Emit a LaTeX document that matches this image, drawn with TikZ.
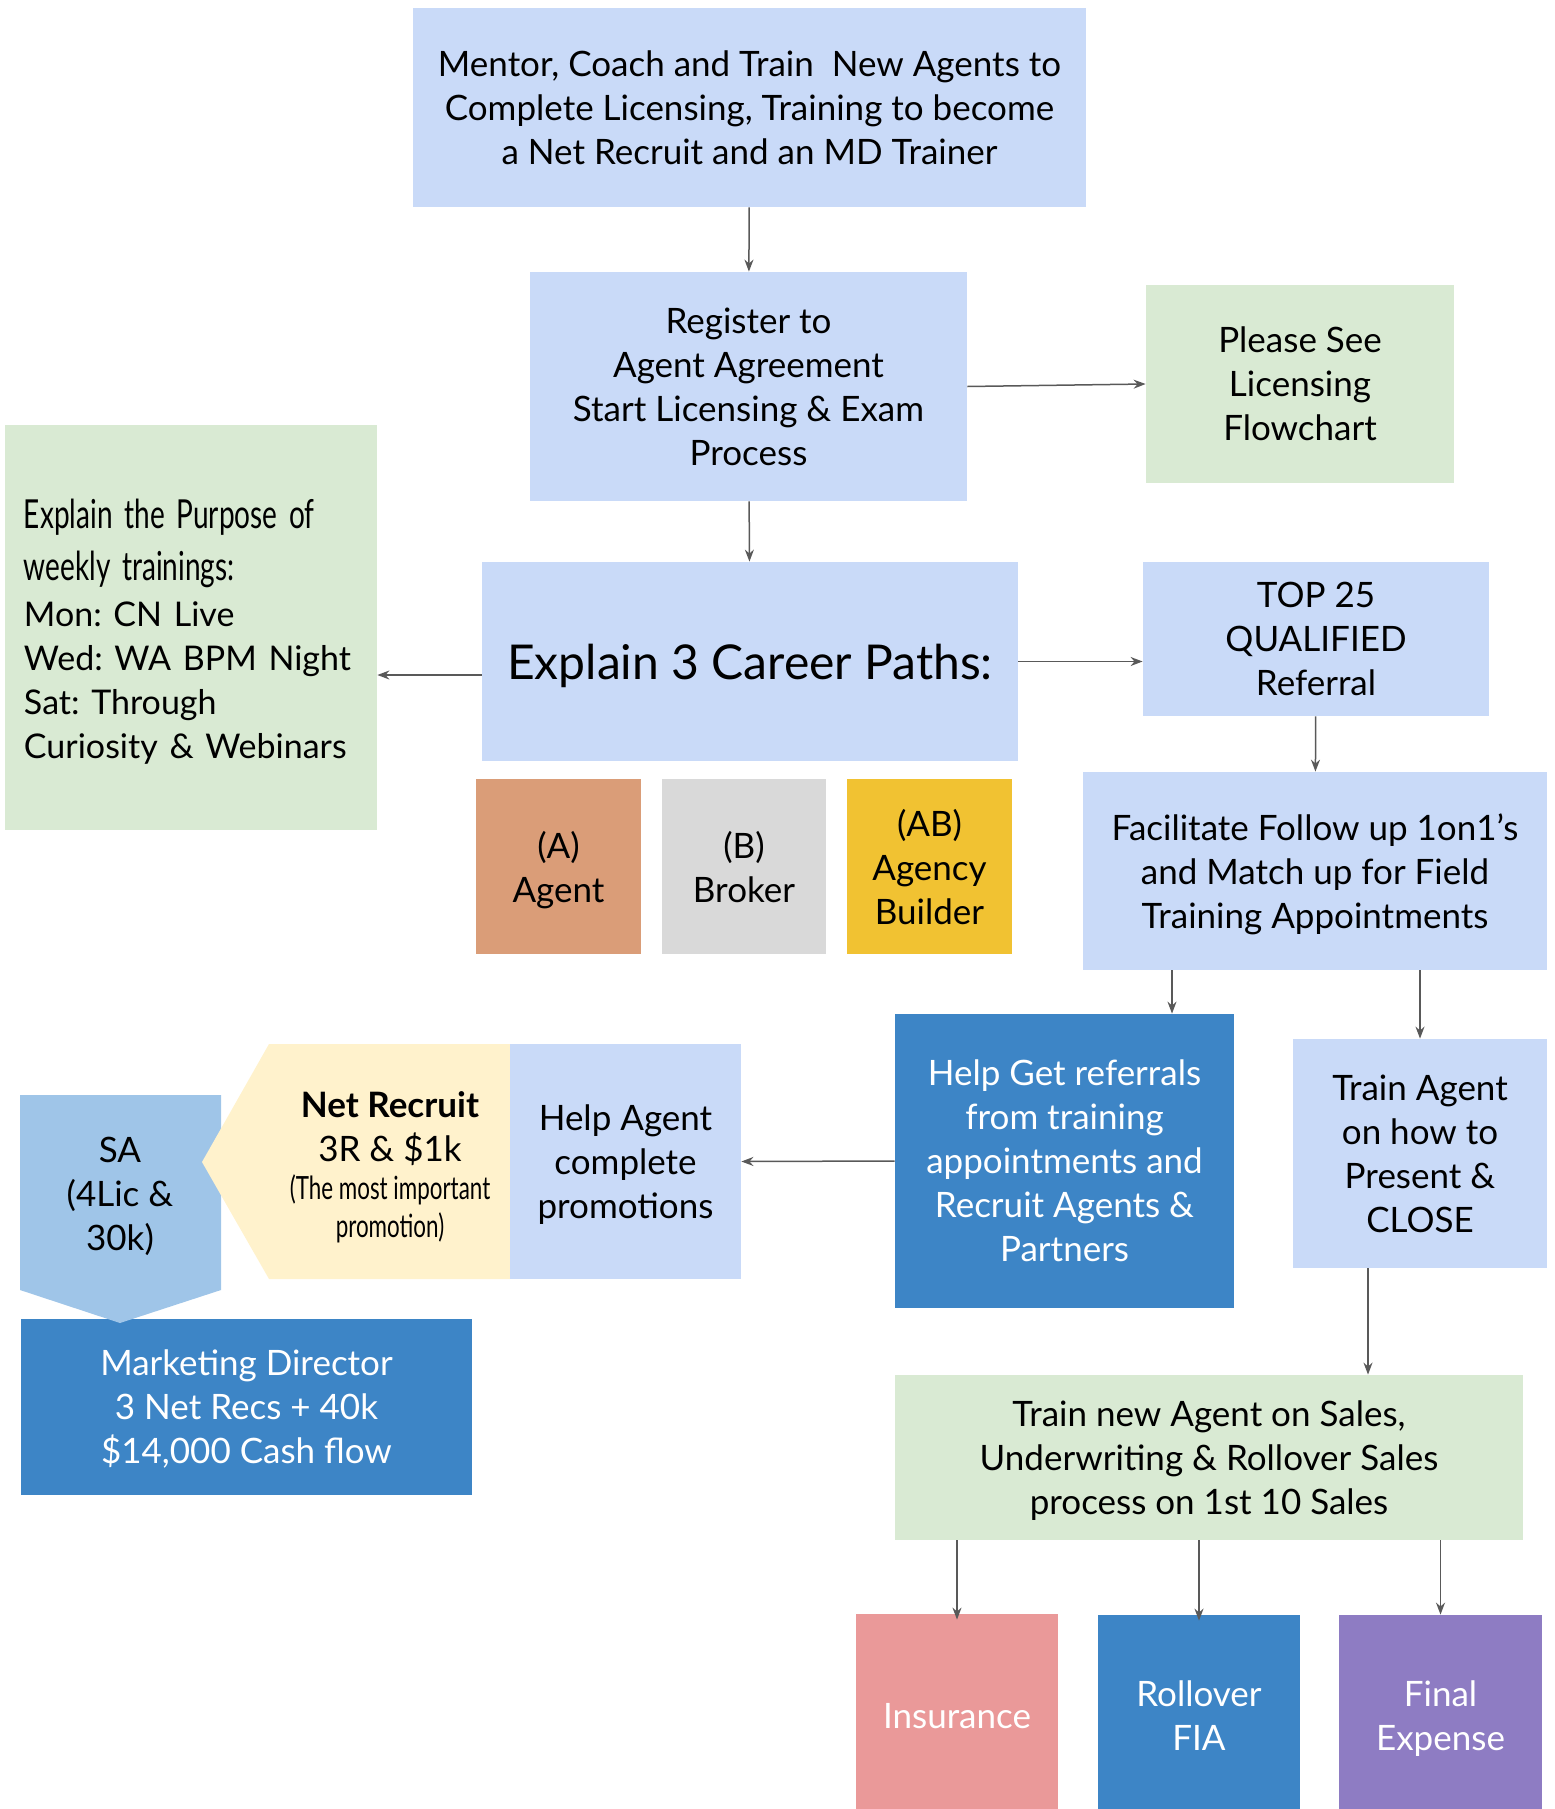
\documentclass[tikz,border=0pt]{standalone}
\usepackage{fontspec}
\setmainfont{Lato}
\newfontfamily\narrowfont[FakeStretch=0.7]{Lato}
\usepackage{tikz}
\usetikzlibrary{arrows.meta}
\frenchspacing

\definecolor{paleblue}{HTML}{C9DAF8}
\definecolor{palegreen}{HTML}{D9EAD3}
\definecolor{paleyellow}{HTML}{FFF2CC}
\definecolor{skyblue}{HTML}{9FC5E8}
\definecolor{deepblue}{HTML}{3D85C6}
\definecolor{clay}{HTML}{DA9D78}
\definecolor{lightgray}{HTML}{D9D9D9}
\definecolor{gold}{HTML}{F1C232}
\definecolor{rose}{HTML}{EA9999}
\definecolor{lavender}{HTML}{8E7CC3}
\definecolor{arrowgray}{HTML}{595959}

\tikzset{
  dims/.style 2 args={minimum width=#1*0.5pt, minimum height=#2*0.5pt},
  box/.style={inner sep=0pt, align=center, text depth=0pt, font=\fontsize{17.5}{22}\selectfont},
  bluebox/.style={box, fill=paleblue},
  greenbox/.style={box, fill=palegreen},
  darkbox/.style={box, fill=deepblue, text=white},
  arrow/.style={->, draw=arrowgray, line width=0.75pt}
}

\begin{document}
\begin{tikzpicture}[x=0.5pt, y=-0.5pt, >={Stealth[length=6pt, width=4.5pt]}]
    \useasboundingbox (0,0) rectangle (1554,1809);

    % Columna central
    \node[bluebox, dims={673}{199}] (mentor) at (749.5,107.5)
        {Mentor, Coach and Train\ \ New Agents to\\Complete Licensing, Training to become\\a Net Recruit and an MD Trainer};
    \node[bluebox, dims={437}{229}] (register) at (748.5,386.5)
        {Register to\\Agent Agreement\\Start Licensing \& Exam\\Process};
    \node[greenbox, dims={308}{198}] (licensing) at (1300,384)
        {Please See\\Licensing\\Flowchart};
    \node[bluebox, dims={536}{199}, font=\fontsize{24}{28}\selectfont] (paths) at (750,661.5)
        {Explain 3 Career Paths:};
    \node[greenbox, dims={372}{405}, text width=167pt, align=left, text depth={}] (purpose) at (191,627.5)
        {\narrowfont\fontsize{20}{26}\selectfont\rule{0pt}{18.5pt}Explain the Purpose of\\weekly trainings:\\[1pt]%
         \normalfont\fontsize{17}{22}\selectfont Mon: CN Live\\Wed: WA BPM Night\\Sat: Through\\Curiosity \& Webinars};

    % Las tres carreras
    \node[box, fill=clay, dims={165}{175}] (agentA) at (558.5,866.5) {(A)\\Agent};
    \node[box, fill=lightgray, dims={164}{175}] (brokerB) at (744,866.5) {(B)\\Broker};
    \node[box, fill=gold, dims={165}{175}] (builderAB) at (929.5,866.5) {(AB)\\Agency\\Builder};

    % Columna derecha
    \node[bluebox, dims={346}{154}] (top25) at (1316,639)
        {TOP 25\\QUALIFIED\\Referral};
    \node[bluebox, dims={464}{198}] (followup) at (1315,871)
        {Facilitate Follow up 1on1's\\and Match up for Field\\Training Appointments};
    \node[darkbox, dims={339}{294}] (referrals) at (1064.5,1161)
        {Help Get referrals\\from training\\appointments and\\Recruit Agents \&\\Partners};
    \node[bluebox, dims={254}{229}] (present) at (1420,1153.5)
        {Train Agent\\on how to\\Present \&\\CLOSE};
    \node[greenbox, dims={628}{165}] (sales) at (1209,1457.5)
        {Train new Agent on Sales,\\Underwriting \& Rollover Sales\\process on 1st 10 Sales};

    % Productos
    \node[box, fill=rose, text=white, dims={202}{204}] (insurance) at (957,1716) {Insurance};
    \node[box, fill=deepblue, text=white, dims={202}{202}] (rollover) at (1199,1716) {Rollover\\FIA};
    \node[box, fill=lavender, text=white, dims={203}{202}] (expense) at (1440.5,1716) {Final\\Expense};

    % Promociones (izquierda)
    \node[darkbox, dims={451}{176}] (director) at (246.5,1407)
        {Marketing Director\\3 Net Recs + 40k\\\$14,000 Cash flow};
    \fill[skyblue] (20,1095) -- (221,1095) -- (221,1290) -- (120,1323) -- (20,1290) -- cycle;
    \node[box] (sa) at (120,1193.5) {SA\\(4Lic \&\\30k)};
    \fill[paleyellow] (269,1044) -- (510,1044) -- (510,1279) -- (269,1279) -- (202,1162) -- cycle;
    \node[box] (netrec) at (390,1164.5)
        {{\bfseries Net Recruit}\\3R \& \$1k\\[-2.9pt]{\narrowfont\fontsize{16}{18.5}\selectfont (The most important}\\[-2.9pt]{\narrowfont\fontsize{16}{18.5}\selectfont promotion)}};
    \node[bluebox, dims={231}{235}] (promotions) at (625.5,1161.5)
        {Help Agent\\complete\\promotions};

    % Puntos auxiliares
    \coordinate (pathsout) at ([yshift=-6.75pt]paths.west);
    \coordinate (refin) at ([xshift=53.75pt]referrals.north);
    \coordinate (salesin) at ([xshift=-26pt]present.south);

    % Conectores
    \draw[arrow] (mentor) -- (register);
    \draw[arrow] (register.east) -- (licensing.west);
    \draw[arrow] (register) -- (paths);
    \draw[arrow] (pathsout) -- (purpose.east |- pathsout);
    \draw[arrow] (paths.east) -- (top25.west |- paths.east);
    \draw[arrow] (top25) -- (followup);
    \draw[arrow] (followup.south -| refin) -- (refin);
    \draw[arrow] (followup.south -| present.north) -- (present.north);
    \draw[arrow] (referrals.west) -- (promotions.east);
    \draw[arrow] (salesin) -- (sales.north -| salesin);
    \draw[arrow] (sales.south -| insurance.north) -- ([yshift=-3pt]insurance.north);
    \draw[arrow] (sales.south -| rollover.north) -- ([yshift=-3pt]rollover.north);
    \draw[arrow] (sales.south -| expense.north) -- (expense.north);
\end{tikzpicture}
\end{document}
